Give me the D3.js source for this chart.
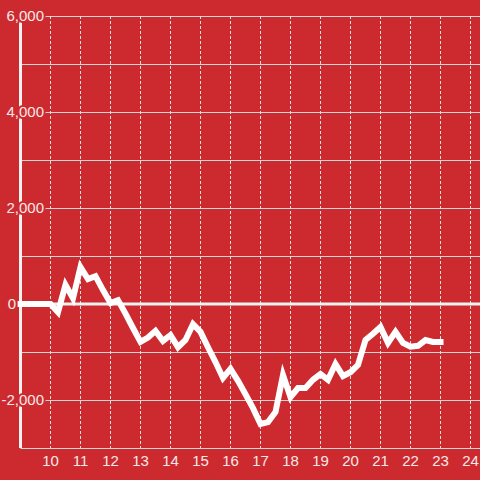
<!DOCTYPE html>
<html>
<head>
<meta charset="utf-8">
<script src="https://cdn.jsdelivr.net/npm/d3@7"></script>
<style>
html,body{margin:0;padding:0;background:#cd2a2f;}
svg{display:block;}
</style>
</head>
<body>
<svg id="chart" width="480" height="480"></svg>
<script>
// ---- data ----
const hours = [9,9.25,9.5,9.75,10,10.25,10.5,10.75,11,11.25,11.5,11.75,12,12.25,12.5,12.75,13,13.25,13.5,13.75,14,14.25,14.5,14.75,15,15.25,15.5,15.75,16,16.25,16.5,16.75,17,17.25,17.5,17.75,18,18.25,18.5,18.75,19,19.25,19.5,19.75,20,20.25,20.5,20.75,21,21.25,21.5,21.75,22,22.25,22.5,22.75,23];
const values = [0,0,0,0,0,-170,400,120,770,520,580,290,20,80,-200,-500,-790,-700,-560,-770,-650,-900,-750,-420,-580,-900,-1210,-1540,-1350,-1600,-1880,-2170,-2500,-2460,-2250,-1480,-1940,-1750,-1750,-1580,-1460,-1580,-1250,-1500,-1420,-1270,-750,-620,-480,-810,-580,-810,-890,-870,-750,-790,-790];
const xTicks = [10,11,12,13,14,15,16,17,18,19,20,21,22,23,24];
const yGrid = [-3000,-2000,-1000,0,1000,2000,3000,4000,5000,6000];
const yTicks = [-2000,0,2000,4000,6000];
const yTickLabels = ["-2,000","0","2,000","4,000","6,000"];

const W = 480, H = 480;
const bg = "#cd2a2f";
const svg = d3.select("#chart");
const x = d3.scaleLinear().domain([9, 25]).range([20.5, 500.5]);
const y = d3.scaleLinear().domain([-3000, 6000]).range([448, 16]);

svg.append("rect").attr("width", W).attr("height", H).attr("fill", bg);

// horizontal grid
svg.append("g").selectAll("line").data(yGrid).join("line")
  .attr("x1", x(9)).attr("x2", W)
  .attr("y1", d => Math.round(y(d)) + 0.5).attr("y2", d => Math.round(y(d)) + 0.5)
  .attr("stroke", "#d6d6d6").attr("stroke-width", 1);

// vertical dotted grid
svg.append("g").selectAll("line").data(xTicks).join("line")
  .attr("x1", d => Math.floor(x(d)) + 0.5).attr("x2", d => Math.floor(x(d)) + 0.5)
  .attr("y1", y(6000)).attr("y2", y(-3000))
  .attr("stroke", "#e0e0e0").attr("stroke-width", 1)
  .attr("stroke-dasharray", "3,2");

// y axis line
svg.append("line")
  .attr("x1", x(9)).attr("x2", x(9))
  .attr("y1", y(6000)).attr("y2", y(-3000))
  .attr("stroke", "#f2f2f2").attr("stroke-width", 3);

// zero line
svg.append("line")
  .attr("x1", x(9) - 3).attr("x2", W)
  .attr("y1", y(0)).attr("y2", y(0))
  .attr("stroke", "#f2f2f2").attr("stroke-width", 3);

// data line
const line = d3.line().x((d, i) => x(hours[i])).y(d => y(d));
svg.append("path").datum(values)
  .attr("d", line)
  .attr("fill", "none")
  .attr("stroke", "#ffffff")
  .attr("stroke-width", 6)
  .attr("stroke-linecap", "square")
  .attr("stroke-linejoin", "miter");

// y labels with halo
svg.append("g").selectAll("text").data(yTicks).join("text")
  .attr("x", d => d === 0 ? 16 : 44)
  .attr("y", d => y(d))
  .attr("dy", "0.36em")
  .attr("text-anchor", "end")
  .attr("font-family", "Liberation Sans, Arial, sans-serif")
  .attr("font-size", 15)
  .attr("fill", "#f6e9e9")
  .attr("stroke", bg).attr("stroke-width", 4)
  .attr("paint-order", "stroke")
  .text((d, i) => yTickLabels[i]);

// x labels
svg.append("g").selectAll("text").data(xTicks).join("text")
  .attr("x", d => x(d))
  .attr("y", 466)
  .attr("text-anchor", "middle")
  .attr("font-family", "Liberation Sans, Arial, sans-serif")
  .attr("font-size", 15)
  .attr("fill", "#f6e9e9")
  .text(d => d);
</script>
</body>
</html>
